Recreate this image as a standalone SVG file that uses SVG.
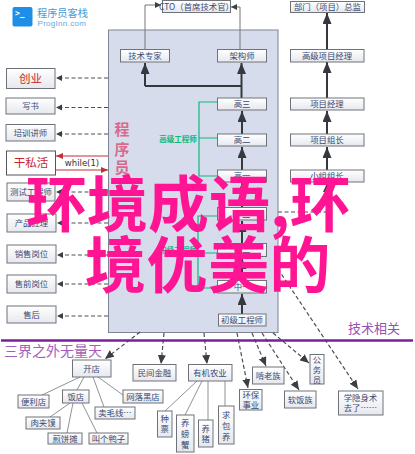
<svg xmlns="http://www.w3.org/2000/svg" width="415" height="454" viewBox="0 0 415 454">
<style>
text{font-family:"Noto Sans CJK SC","Noto Sans",sans-serif}
.n rect{fill:url(#g);stroke:#6f7378;stroke-width:1}
.n text{font-size:8.4px;fill:#3a4a72;text-anchor:middle}
.r text{font-size:11.5px;fill:#c8262c}
.l{fill:none;stroke:#8f9296;stroke-width:1}
.t{fill:none;stroke:#35383c;stroke-width:2}
.d{fill:none;stroke:#4c4f52;stroke-width:1.2;stroke-dasharray:4 2.5}
.gr{fill:none;stroke:#12b57e;stroke-width:1.2}
.thin{fill:none;stroke:#777;stroke-width:1}
.red{fill:none;stroke:#c0303a;stroke-width:1.2}
.big{font-size:61px;font-weight:700;fill:#ff1493}
</style>
<defs>
<linearGradient id="g" x1="0" y1="0" x2="0" y2="1"><stop offset="0" stop-color="#fff"/><stop offset="1" stop-color="#e6e8ee"/></linearGradient>
<marker id="at" markerUnits="userSpaceOnUse" markerWidth="12" markerHeight="9" refX="11" refY="4.5" orient="auto"><path d="M0 0L11 4.5L0 9z" fill="#35383c"/></marker>
<marker id="ad" markerUnits="userSpaceOnUse" markerWidth="10" markerHeight="8" refX="9" refY="4" orient="auto"><path d="M0 0L9 4L0 8z" fill="#3c3f42"/></marker>
<marker id="as" markerUnits="userSpaceOnUse" markerWidth="7" markerHeight="7" refX="6" refY="3" orient="auto"><path d="M0 0L6 3L0 6z" fill="#3c3f42"/></marker>
<marker id="ar" markerUnits="userSpaceOnUse" markerWidth="8" markerHeight="7" refX="7" refY="3" orient="auto"><path d="M0 0L7 3L0 6z" fill="#c0303a"/></marker>
</defs>
<rect width="415" height="454" fill="#fff"/>

<g id="logo">
<rect x="12.5" y="7" width="20" height="19.5" rx="2" fill="#1e8fe6"/>
<text x="15" y="15.5" font-size="8" font-weight="700" fill="#fff" style="font-family:'DejaVu Sans Mono',monospace">&gt;_</text>
<text x="37" y="16.5" font-size="10.2" fill="#4a9ad4">程序员客栈</text>
<text x="37.5" y="25.5" font-size="8" fill="#6aa8d6" style="font-family:'Liberation Sans',sans-serif" letter-spacing=".3">ProgInn.com</text>
</g>

<g id="panel"><rect x="108.5" y="30" width="169.5" height="302.5" fill="#d6dcec" stroke="#7f8494" stroke-width="1"/>
<g fill="#d96a8c" font-size="15" font-weight="700" text-anchor="middle"><text x="122" y="135">程</text><text x="122" y="155">序</text><text x="122" y="173">员</text></g>
</g>

<g id="connectors">
<path class="thin" d="M145 49V5H161" marker-end="url(#as)"/>
<path class="thin" d="M240 49V7H231" marker-end="url(#as)"/>
<path class="t" d="M145 86V63" marker-end="url(#at)"/>
<path class="t" d="M145 86H241"/>
<path class="t" d="M241.500 98V63" marker-end="url(#at)"/>
<path class="t" d="M242 134V111" marker-end="url(#at)"/>
<path class="t" d="M242 170V147" marker-end="url(#at)"/>
<path class="t" d="M242 207V183" marker-end="url(#at)"/>
<path class="t" d="M242 243V221" marker-end="url(#at)"/>
<path class="t" d="M242 280V258" marker-end="url(#at)"/>
<path class="t" d="M242 314V294" marker-end="url(#at)"/>
<path class="t" d="M327 49V13" marker-end="url(#at)"/>
<path class="t" d="M327 98V62" marker-end="url(#at)"/>
<path class="t" d="M327 134V111" marker-end="url(#at)"/>
<path class="t" d="M327 170V147" marker-end="url(#at)"/>
<path class="d" d="M278 212H327V183" marker-end="url(#ad)"/>
<path class="gr" d="M217 102H199V176H217M199 138H217"/>
<path class="gr" d="M217 216H198V288H217M198 253H217"/>
<path class="d" d="M108 78H56" marker-end="url(#as)"/>
<path class="d" d="M108 107.500H56" marker-end="url(#as)"/>
<path class="d" d="M108 134H56" marker-end="url(#as)"/>
<path class="d" d="M108 192H56" marker-end="url(#as)"/>
<path class="d" d="M108 223H57" marker-end="url(#as)"/>
<path class="d" d="M108 255H57" marker-end="url(#as)"/>
<path class="d" d="M108 284H57" marker-end="url(#as)"/>
<path class="d" d="M108 316H57" marker-end="url(#as)"/>
<path class="red" d="M108 156H56" marker-end="url(#ar)"/>
<path class="red" d="M56 170H108" marker-end="url(#ar)"/>
<path class="d" d="M140 332L105 359" marker-end="url(#ad)"/>
<path class="d" d="M164 333L161 364" marker-end="url(#ad)"/>
<path class="d" d="M204 333L207 364" marker-end="url(#ad)"/>
<path class="d" d="M237 333L248 388" marker-end="url(#ad)"/>
<path class="d" d="M252 333L266 366" marker-end="url(#ad)"/>
<path class="d" d="M262 333L299 390" marker-end="url(#ad)"/>
<path class="d" d="M273 333L309 363" marker-end="url(#ad)"/>
<path class="d" d="M278 269L358 389" marker-end="url(#ad)"/>
<path class="l" d="M80 377L42 395M84 377L77 390M93 377L104 407M98 377L123 395M70 403L50 417M73 403L67 433M82 403L97 433M197 381L165 411M202 381L185 415M208 381V420M225 381V406"/>
<path d="M1 340.500H413" fill="none" stroke="#7a1f9a" stroke-width="2.500"/>
</g>

<text id="label-while" x="82" y="166" font-size="8.500" fill="#333" text-anchor="middle" style="font-family:'DejaVu Sans',sans-serif">while(1)</text>
<text id="label-high" x="178" y="142" font-size="7.500" font-weight="700" fill="#10b878" text-anchor="middle">高级工程师</text>
<text id="label-mid" x="178" y="253" font-size="7.500" font-weight="700" fill="#10b878" text-anchor="middle">中级工程师</text>
<text id="label-a" x="4" y="356" font-size="14" fill="#a65cbc">三界之外无量天</text>
<text id="label-b" x="348" y="333" font-size="13" fill="#9650b0">技术相关</text>

<g id="n-cto" class="n"><rect x="162.500" y="0.500" width="68" height="12"/><text x="196.500" y="9.500">CTO（首席技术官）</text></g>
<g id="n-dir" class="n"><rect x="290.500" y="1.500" width="74" height="11"/><text x="327.500" y="10">部门（项目）总监</text></g>
<g id="n-exp" class="n"><rect x="120.500" y="49.500" width="49" height="12.500"/><text x="145" y="58.800">技术专家</text></g>
<g id="n-arch" class="n"><rect x="217.500" y="49.500" width="49" height="12.500"/><text x="242" y="58.800">架构师</text></g>
<g id="n-spm" class="n"><rect x="290.500" y="49.500" width="73.500" height="12.500"/><text x="327" y="58.800">高级项目经理</text></g>
<g id="n-h3" class="n"><rect x="217.500" y="98" width="49" height="12"/><text x="242" y="107">高三</text></g>
<g id="n-pm" class="n"><rect x="290.500" y="98" width="73.500" height="12"/><text x="327" y="107">项目经理</text></g>
<g id="n-h2" class="n"><rect x="217.500" y="134" width="49" height="12"/><text x="242" y="143">高二</text></g>
<g id="n-tl" class="n"><rect x="290.500" y="134" width="73.500" height="12"/><text x="327" y="143">项目组长</text></g>
<g id="n-h1" class="n"><rect x="217.500" y="170" width="49" height="12"/><text x="242" y="179">高一</text></g>
<g id="n-gl" class="n"><rect x="290.500" y="170" width="73.500" height="12"/><text x="327" y="179">小组组长</text></g>
<g id="n-m3" class="n"><rect x="217.500" y="207.500" width="49" height="12.500"/><text x="242" y="217">中三</text></g>
<g id="n-m2" class="n"><rect x="217.500" y="243.500" width="49" height="13"/><text x="242" y="253">中二</text></g>
<g id="n-m1" class="n"><rect x="217.500" y="280.500" width="49" height="12.500"/><text x="242" y="290">中一</text></g>
<g id="n-jr" class="n"><rect x="218.500" y="314" width="47.500" height="12"/><text x="242" y="323">初级工程师</text></g>

<g id="n-biz" class="n r"><rect x="6.500" y="68.500" width="48.500" height="20"/><text x="30.500" y="82.800">创业</text></g>
<g id="n-book" class="n"><rect x="6" y="98" width="49" height="16"/><text x="30.500" y="109">写书</text></g>
<g id="n-train" class="n"><rect x="6" y="124.500" width="49" height="16.500"/><text x="30.500" y="135.800">培训讲师</text></g>
<g id="n-side" class="n r"><rect x="6.500" y="151" width="49" height="24" style="fill:#fff;stroke:#555"/><text x="31" y="167">干私活</text></g>
<g id="n-test" class="n"><rect x="7" y="183" width="48" height="18"/><text x="31" y="195">测试工程师</text></g>
<g id="n-prod" class="n"><rect x="7" y="214" width="49" height="18"/><text x="31.500" y="226">产品经理</text></g>
<g id="n-sale" class="n"><rect x="7" y="245" width="49" height="18"/><text x="31.500" y="257">销售岗位</text></g>
<g id="n-pre" class="n"><rect x="7" y="275" width="49" height="18"/><text x="31.500" y="287">售前岗位</text></g>
<g id="n-post" class="n"><rect x="7" y="306" width="49" height="17"/><text x="31.500" y="317.500">售后</text></g>

<g id="n-shop" class="n"><rect x="72.500" y="360" width="38.500" height="17"/><text x="91.500" y="371.500">开店</text></g>
<g id="n-fin" class="n"><rect x="133" y="364.500" width="43" height="16.500"/><text x="154.500" y="375.800">民间金融</text></g>
<g id="n-agri" class="n"><rect x="188.500" y="364.500" width="43.500" height="16.500"/><text x="210" y="375.800">有机农业</text></g>
<g id="n-conv" class="n"><rect x="18" y="395" width="31" height="13"/><text x="33.500" y="404.500">便利店</text></g>
<g id="n-rest" class="n"><rect x="62.500" y="390" width="26.500" height="13"/><text x="75.800" y="399.500">饭店</text></g>
<g id="n-net" class="n"><rect x="123" y="390" width="40" height="13"/><text x="143" y="399.500">网落黑店</text></g>
<g id="n-yarn" class="n"><rect x="95" y="407" width="40" height="12"/><text x="115" y="416">卖毛线…</text></g>
<g id="n-rou" class="n"><rect x="26" y="417" width="34" height="12"/><text x="43" y="426">肉夹馍</text></g>
<g id="n-jian" class="n"><rect x="48" y="433" width="34" height="11"/><text x="65" y="441.800">煎饼摊</text></g>
<g id="n-duck" class="n"><rect x="89" y="433" width="39" height="11"/><text x="108.500" y="441.800">叫个鸭子</text></g>
<g id="n-zp" class="n"><rect x="157.500" y="411" width="14.500" height="26"/><text x="164.800" y="422">种</text><text x="164.800" y="432">票</text></g>
<g id="n-pang" class="n"><rect x="176.500" y="415" width="17.500" height="37"/><text x="185.200" y="426">养</text><text x="185.200" y="437">螃</text><text x="185.200" y="448">蟹</text></g>
<g id="n-zhu" class="n"><rect x="198.500" y="420" width="14.500" height="27"/><text x="205.800" y="431.500">养</text><text x="205.800" y="442">猪</text></g>
<g id="n-qiu" class="n"><rect x="218.500" y="406" width="15.500" height="38"/><text x="226.200" y="418">求</text><text x="226.200" y="429">包</text><text x="226.200" y="440">养</text></g>
<g id="n-env" class="n"><rect x="239.500" y="389.500" width="22.500" height="20.500"/><text x="250.800" y="398">环保</text><text x="250.800" y="408">事业</text></g>
<g id="n-ken" class="n"><rect x="252.500" y="367" width="31.500" height="17"/><text x="268.200" y="378.500">啃老族</text></g>
<g id="n-ruan" class="n"><rect x="284.500" y="391" width="31.500" height="17"/><text x="300.200" y="402.500">软饭族</text></g>
<g id="n-gov" class="n"><rect x="310" y="354.500" width="14" height="29.500"/><text x="317" y="362.500">公</text><text x="317" y="372.500">务</text><text x="317" y="382.500">员</text></g>
<g id="n-xue" class="n"><rect x="338.500" y="391" width="44.500" height="24"/><text x="360.500" y="400.500">学隐身术</text><text x="360.500" y="411">去了……</text></g>

<g id="overlay"><text class="big" x="26" y="227">环境成语,环</text><text class="big" x="85" y="288" letter-spacing=".5">境优美的</text></g>
</svg>
